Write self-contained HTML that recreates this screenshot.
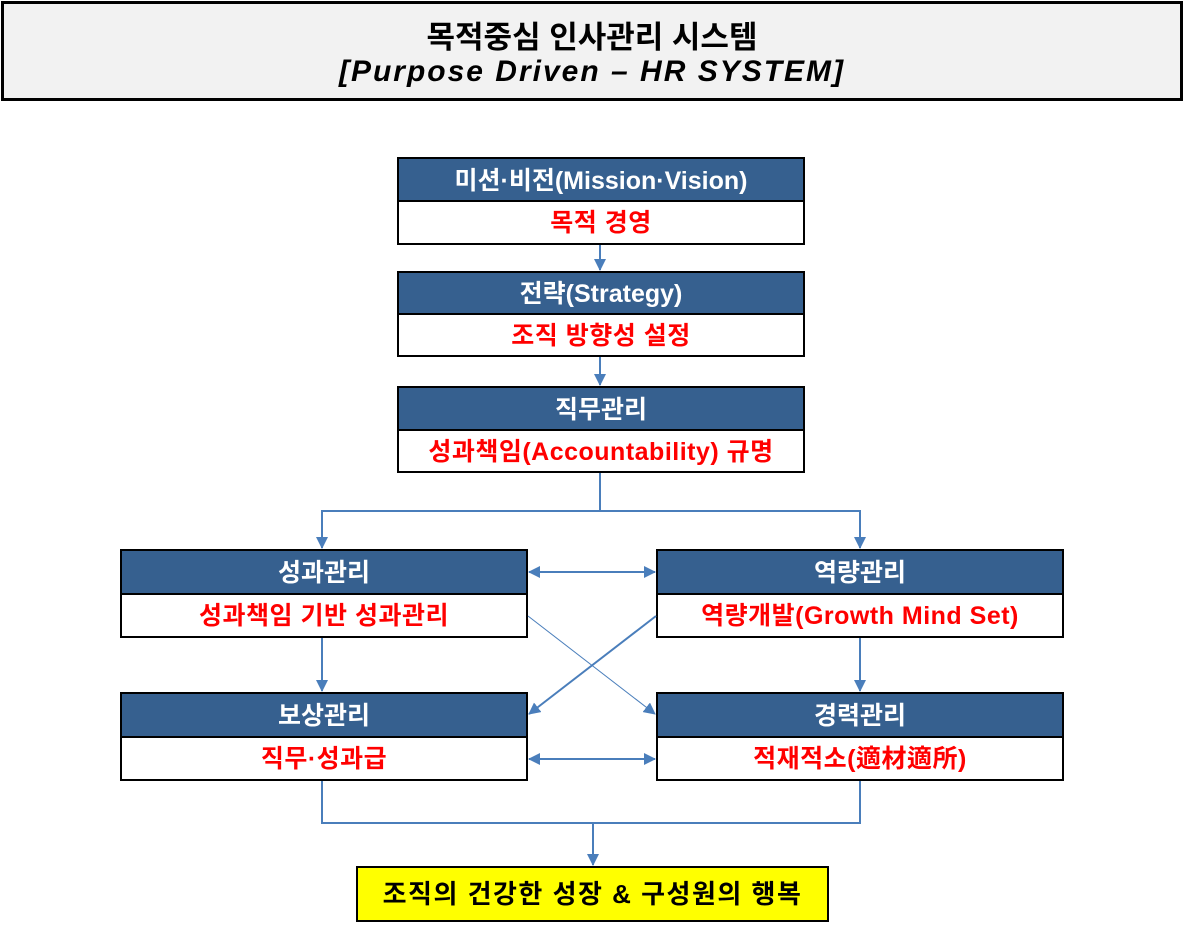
<!DOCTYPE html>
<html><head><meta charset="utf-8"><style>
body{margin:0;width:1184px;height:925px;background:#fff;position:relative;overflow:hidden;font-family:"Liberation Sans","Noto Sans CJK KR","NanumGothic",sans-serif;}
.a{position:absolute;box-sizing:border-box;}
.title{left:1px;top:1px;width:1182px;height:100px;background:#f2f2f2;border:3px solid #000;text-align:center;}
.t1{font-size:31px;font-weight:bold;margin-top:17px;line-height:34px;}
.t2{font-size:30px;font-style:italic;font-weight:bold;line-height:34px;letter-spacing:2px;}
.h{background:#36608f;color:#fff;border:2px solid #000;font-size:25px;font-weight:bold;text-align:center;white-space:nowrap;}
.b{background:#fff;color:#f00;border:2px solid #000;border-top:none;font-size:25px;font-weight:bold;text-align:center;white-space:nowrap;letter-spacing:0.5px;}
</style></head><body>
<div class="a title"><div class="t1">목적중심 인사관리 시스템</div><div class="t2">[Purpose Driven – HR SYSTEM]</div></div>

<div class="a h" style="left:397px;top:157px;width:408px;height:45px;line-height:44px">미션·비전(Mission·Vision)</div>
<div class="a b" style="left:397px;top:202px;width:408px;height:43px;line-height:43px">목적 경영</div>
<div class="a h" style="left:397px;top:271px;width:408px;height:44px;line-height:43px">전략(Strategy)</div>
<div class="a b" style="left:397px;top:315px;width:408px;height:42px;line-height:42px">조직 방향성 설정</div>
<div class="a h" style="left:397px;top:386px;width:408px;height:45px;line-height:44px">직무관리</div>
<div class="a b" style="left:397px;top:431px;width:408px;height:42px;line-height:42px">성과책임(Accountability) 규명</div>

<div class="a h" style="left:120px;top:549px;width:408px;height:46px;line-height:45px">성과관리</div>
<div class="a b" style="left:120px;top:595px;width:408px;height:43px;line-height:43px">성과책임 기반 성과관리</div>
<div class="a h" style="left:656px;top:549px;width:408px;height:46px;line-height:45px">역량관리</div>
<div class="a b" style="left:656px;top:595px;width:408px;height:43px;line-height:43px">역량개발(Growth Mind Set)</div>
<div class="a h" style="left:120px;top:692px;width:408px;height:46px;line-height:45px">보상관리</div>
<div class="a b" style="left:120px;top:738px;width:408px;height:43px;line-height:43px">직무·성과급</div>
<div class="a h" style="left:656px;top:692px;width:408px;height:46px;line-height:45px">경력관리</div>
<div class="a b" style="left:656px;top:738px;width:408px;height:43px;line-height:43px">적재적소(適材適所)</div>

<div class="a" style="left:356px;top:866px;width:473px;height:56px;background:#ffff00;border:2px solid #000;font-size:26px;font-weight:bold;text-align:center;line-height:53px;letter-spacing:1.5px;white-space:nowrap">조직의 건강한 성장 &amp; 구성원의 행복</div>

<svg class="a" style="left:0;top:0" width="1184" height="925">
<defs><marker id="m" markerWidth="12" markerHeight="12" refX="11" refY="6" orient="auto" markerUnits="userSpaceOnUse"><path d="M0,0 L12,6 L0,12 z" fill="#4a7ebb"/></marker></defs>
<g stroke="#4a7ebb" stroke-width="2" fill="none">
<line x1="600" y1="245" x2="600" y2="270" marker-end="url(#m)"/>
<line x1="600" y1="357" x2="600" y2="385" marker-end="url(#m)"/>
<polyline points="600,473 600,511 322,511 322,548" marker-end="url(#m)"/>
<polyline points="600,511 860,511 860,548" marker-end="url(#m)"/>
<line x1="322" y1="638" x2="322" y2="691" marker-end="url(#m)"/>
<line x1="860" y1="638" x2="860" y2="691" marker-end="url(#m)"/>
<line x1="540" y1="572" x2="655" y2="572" marker-end="url(#m)"/>
<line x1="645" y1="572" x2="529" y2="572" marker-end="url(#m)"/>
<line x1="540" y1="759" x2="655" y2="759" marker-end="url(#m)"/>
<line x1="645" y1="759" x2="529" y2="759" marker-end="url(#m)"/>
<line x1="656" y1="616" x2="529" y2="714" marker-end="url(#m)"/>
<line x1="528" y1="616" x2="655" y2="714" stroke-width="1" marker-end="url(#m)"/>
<polyline points="322,781 322,823 860,823 860,781"/>
<line x1="593" y1="823" x2="593" y2="865" marker-end="url(#m)"/>
</g></svg>
</body></html>
